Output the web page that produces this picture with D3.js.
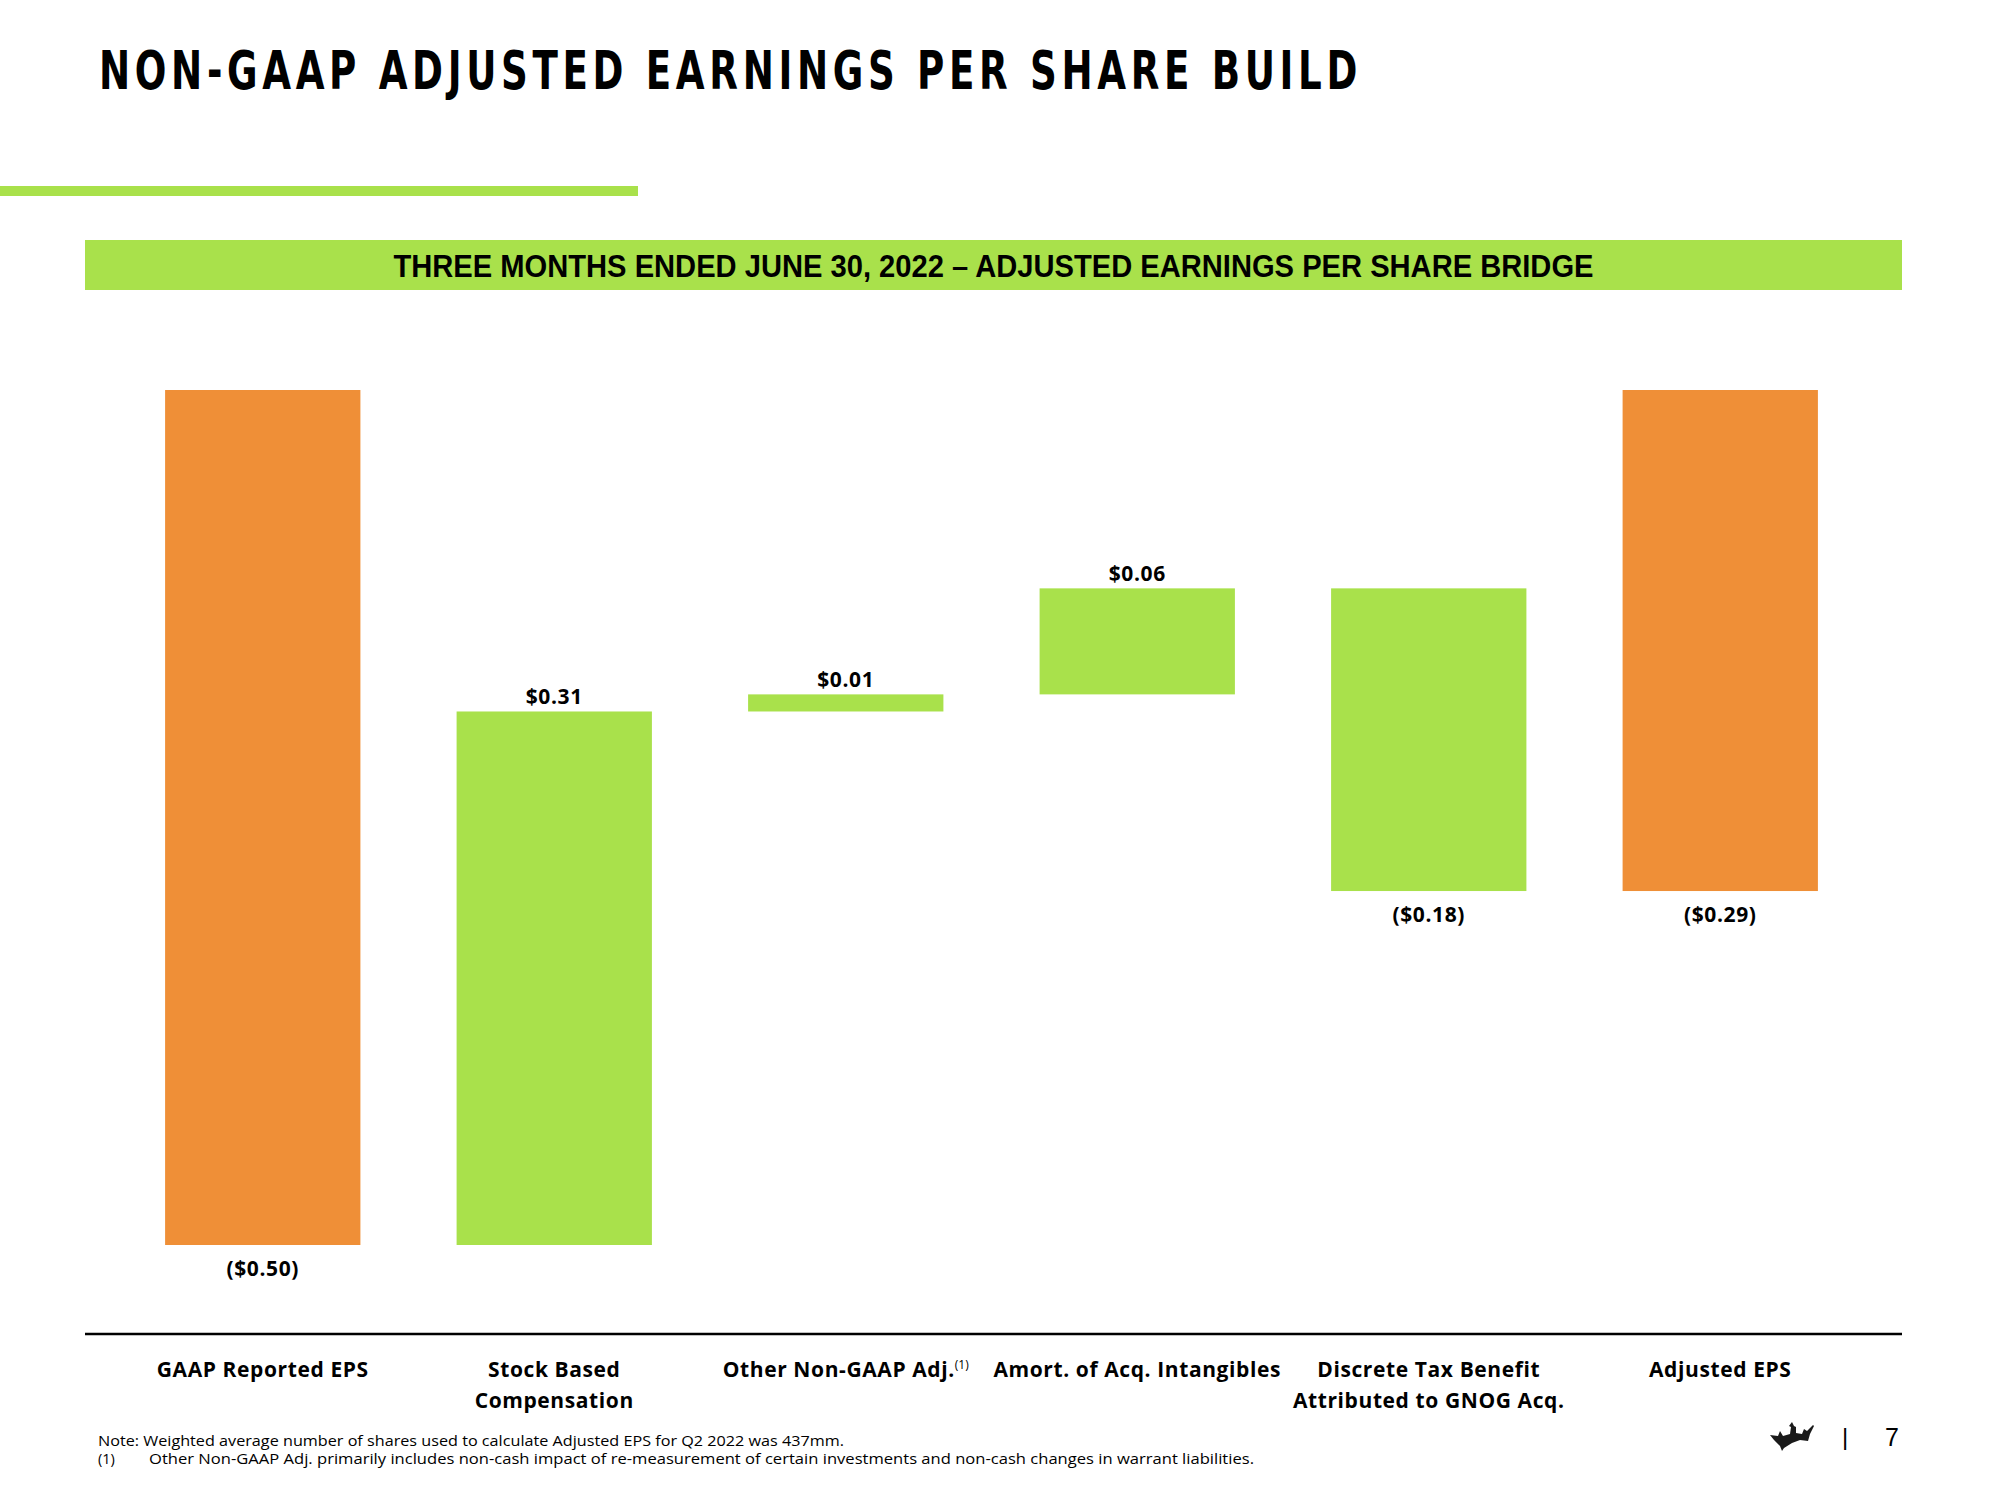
<!DOCTYPE html>
<html>
<head>
<meta charset="utf-8">
<script src="https://cdn.jsdelivr.net/npm/d3@7"></script>
<style>
  body { margin: 0; background: #fff; }
  svg { display: block; }
</style>
</head>
<body>
<svg id="chart" width="2000" height="1500"></svg>
<script>
// chart data
var categories = [
  ["GAAP Reported EPS"],
  ["Stock Based", "Compensation"],
  ["Other Non-GAAP Adj."],
  ["Amort. of Acq. Intangibles"],
  ["Discrete Tax Benefit", "Attributed to GNOG Acq."],
  ["Adjusted EPS"]
];
var barType = ["total", "step", "step", "step", "step", "total"];
// plotted amounts (unrounded)
var amounts = [-0.50, 0.312, 0.010, 0.062, -0.177, -0.293];
var valueLabels = ["($0.50)", "$0.31", "$0.01", "$0.06", "($0.18)", "($0.29)"];

var orange = "#EF8F37", green = "#A9E14B";

var svg = d3.select("#chart");

// build waterfall start/end
var running = 0;
var bars = amounts.map(function(v, i) {
  var b;
  if (barType[i] === "total") {
    b = {start: 0, end: v};
    running = v;
  } else {
    b = {start: running, end: running + v};
    running = running + v;
  }
  b.i = i; b.v = v; b.type = barType[i];
  return b;
});

var x = d3.scaleBand()
  .domain(d3.range(categories.length))
  .range([117, 1866])
  .paddingInner(0.33)
  .paddingOuter(0.165);

var y = d3.scaleLinear().domain([0, -0.5]).range([390, 1245]);

// title
svg.append("text")
  .attr("x", 99).attr("y", 89)
  .attr("font-family", "DejaVu Sans")
  .attr("font-stretch", "condensed")
  .attr("font-weight", "bold")
  .attr("font-size", 53)
  .attr("letter-spacing", 6)
  .attr("textLength", 1263)
  .attr("lengthAdjust", "spacingAndGlyphs")
  .attr("fill", "#000")
  .text("NON-GAAP ADJUSTED EARNINGS PER SHARE BUILD");

// accent line
svg.append("rect").attr("x", 0).attr("y", 186).attr("width", 638).attr("height", 10).attr("fill", green);

// banner
svg.append("rect").attr("x", 85).attr("y", 240).attr("width", 1817).attr("height", 50).attr("fill", green);
svg.append("text")
  .attr("x", 993.5).attr("y", 277)
  .attr("text-anchor", "middle")
  .attr("font-family", "Liberation Sans, Arial, sans-serif")
  .attr("font-weight", "bold")
  .attr("font-size", 31)
  .attr("textLength", 1200)
  .attr("lengthAdjust", "spacingAndGlyphs")
  .attr("fill", "#000")
  .text("THREE MONTHS ENDED JUNE 30, 2022 \u2013 ADJUSTED EARNINGS PER SHARE BRIDGE");

// bars
var g = svg.append("g");
g.selectAll(".bar")
  .data(bars)
  .enter().append("rect")
    .attr("class", "bar")
    .attr("x", function(d) { return x(d.i); })
    .attr("y", function(d) { return Math.min(y(d.start), y(d.end)); })
    .attr("width", x.bandwidth())
    .attr("height", function(d) { return Math.abs(y(d.start) - y(d.end)); })
    .attr("fill", function(d) { return d.type === "total" ? orange : green; });

// value labels
g.selectAll(".val")
  .data(bars)
  .enter().append("text")
    .attr("class", "val")
    .attr("x", function(d) { return x(d.i) + x.bandwidth() / 2; })
    .attr("y", function(d) {
      if (d.v >= 0) return Math.min(y(d.start), y(d.end)) - 7;
      return Math.max(y(d.start), y(d.end)) + 31;
    })
    .attr("text-anchor", "middle")
    .attr("font-family", "Open Sans")
    .attr("font-weight", "bold")
    .attr("font-size", 21)
    .attr("letter-spacing", 0.6)
    .attr("fill", "#000")
    .text(function(d, i) { return valueLabels[i]; });

// axis baseline
svg.append("line")
  .attr("x1", 85).attr("x2", 1902)
  .attr("y1", 1334).attr("y2", 1334)
  .attr("stroke", "#000").attr("stroke-width", 2.5);

// category labels
var cat = svg.selectAll(".cat")
  .data(categories)
  .enter().append("text")
    .attr("class", "cat")
    .attr("x", function(d, i) { return x(i) + x.bandwidth() / 2; })
    .attr("y", 1377)
    .attr("text-anchor", "middle")
    .attr("font-family", "Open Sans")
    .attr("font-weight", "bold")
    .attr("font-size", 21)
    .attr("letter-spacing", 0.6)
    .attr("fill", "#000");

cat.each(function(lines, i) {
  var t = d3.select(this);
  lines.forEach(function(line, j) {
    t.append("tspan")
      .attr("x", x(i) + x.bandwidth() / 2)
      .attr("dy", j === 0 ? 0 : 31)
      .text(line);
  });
});

// footnote marker on "Other Non-GAAP Adj."
var cat3 = svg.selectAll(".cat").filter(function(d, i) { return i === 2; });
cat3.append("tspan")
  .attr("dy", -8)
  .attr("font-size", 12)
  .attr("font-weight", "normal")
  .attr("letter-spacing", 0)
  .text("(1)");

// notes
var notes = svg.append("g")
  .attr("font-family", "Open Sans")
  .attr("font-size", 14.5)
  .attr("fill", "#000");
notes.append("text").attr("x", 98).attr("y", 1446)
  .attr("textLength", 746).attr("lengthAdjust", "spacingAndGlyphs")
  .text("Note: Weighted average number of shares used to calculate Adjusted EPS for Q2 2022 was 437mm.");
notes.append("text").attr("x", 98).attr("y", 1464).text("(1)");
notes.append("text").attr("x", 149).attr("y", 1464)
  .attr("textLength", 1105).attr("lengthAdjust", "spacingAndGlyphs")
  .text("Other Non-GAAP Adj. primarily includes non-cash impact of re-measurement of certain investments and non-cash changes in warrant liabilities.");

// crown logo
svg.append("path")
  .attr("transform", "translate(1770,1422)")
  .attr("fill", "#1a1a1a")
  .attr("d", "M0,13 L8,14 L10,9 L13,14 L20,12 L21,5 L19,4 L22,0 L24,4 L26,5 L26,11 L32,12 L34,7 L37,9 L40,6 L43,3 L44,4 L42,8 L40,12 L38,19 L30,18 L22,21 L14,26 L12,29 L10,24 L4,18 Z");

// page number
svg.append("text").attr("x", 1842).attr("y", 1445)
  .attr("font-family", "Liberation Sans, Arial, sans-serif")
  .attr("font-size", 24).attr("fill", "#000").text("|");
svg.append("text").attr("x", 1885).attr("y", 1446)
  .attr("font-family", "Liberation Sans, Arial, sans-serif")
  .attr("font-size", 25).attr("fill", "#000").text("7");
</script>
</body>
</html>
